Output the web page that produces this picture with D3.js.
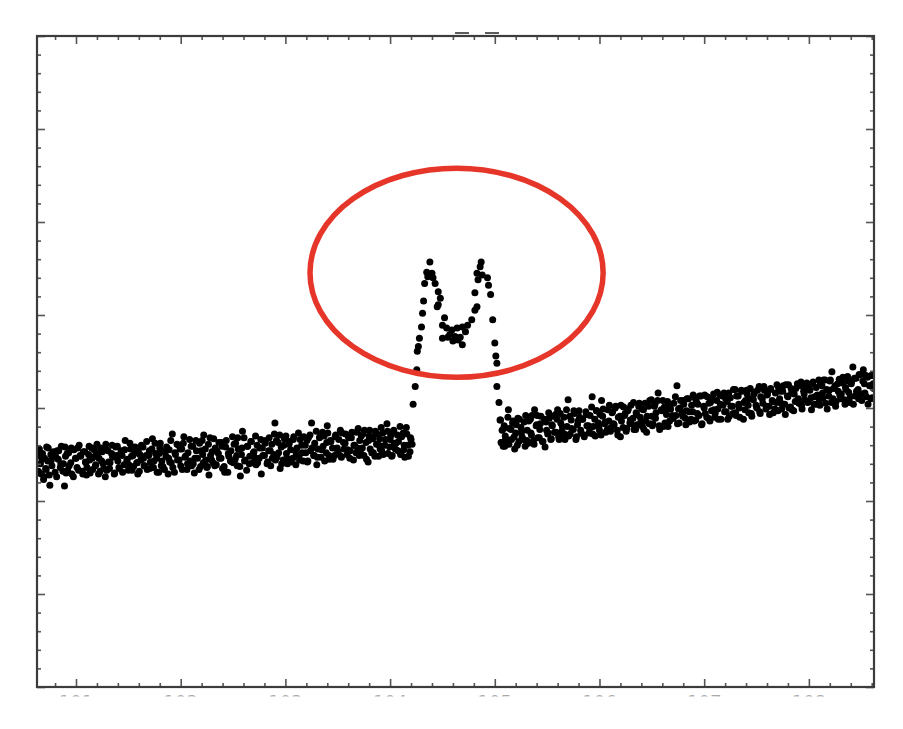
<!DOCTYPE html>
<html>
<head>
<meta charset="utf-8">
<script src="https://cdn.jsdelivr.net/npm/d3@7"></script>
<style>
  html, body { margin: 0; padding: 0; background: #fff; }
  svg { display: block; }
</style>
</head>
<body>
<script>
// ---------------- DATA ----------------
const xTickValues = [101, 102, 103, 104, 105, 106, 107, 108];
const xTickLabels = ["101", "102", "103", "104", "105", "106", "107", "108"];
const yTickValues = [0, 10, 20, 30, 40, 50, 60, 70];

// left baseline segment [x, y]
const leftBand = [
[100.63,24.9],[100.64,23.2],[100.65,25.6],[100.66,24.0],[100.67,22.9],[100.68,25.1],[100.69,22.3],[100.70,24.6],
[100.71,23.5],[100.72,25.8],[100.73,24.3],[100.75,21.7],[100.76,25.0],[100.77,23.8],[100.79,24.9],
[100.80,23.1],[100.82,25.4],[100.83,24.5],[100.85,23.6],[100.86,25.9],[100.88,24.0],[100.89,21.6],
[100.90,24.8],[100.92,23.3],[100.93,25.2],[100.95,24.1],[100.96,22.9],[100.98,25.5],
[101.00,24.6],[101.01,23.6],[101.03,26.0],[101.04,24.9],[101.06,23.2],[101.07,25.3],[101.09,24.2],
[101.10,22.8],[101.12,25.0],[101.13,24.4],[101.15,25.7],[101.16,23.4],[101.18,24.8],
[101.19,23.9],[101.20,26.1],[101.22,24.6],[101.23,23.2],[101.25,25.3],[101.26,24.0],[101.28,22.6],
[101.29,25.5],[101.31,24.2],[101.32,23.5],[101.34,25.1],[101.35,24.7],[101.37,23.0],[101.38,25.8],
[101.40,24.3],[101.41,23.6],[101.43,25.4],[101.44,24.9],[101.46,23.9],[101.47,26.5],[101.49,24.5],
[101.50,23.3],[101.52,25.6],[101.53,24.8],[101.55,23.7],[101.56,25.2],[101.58,24.1],
[101.59,22.9],[101.61,25.0],[101.62,24.4],[101.64,25.8],[101.65,23.8],[101.67,24.9],[101.68,23.4],
[101.70,25.4],[101.71,24.2],[101.73,26.7],[101.74,23.6],[101.76,25.1],[101.77,24.6],[101.79,23.1],
[101.80,25.7],[101.82,24.3],[101.83,23.7],[101.85,25.3],[101.86,24.8],[101.88,22.9],
[101.89,25.5],[101.91,24.1],[101.92,27.2],[101.94,23.1],[101.95,25.0],[101.97,24.4],[101.98,26.0],
[102.00,23.8],[102.01,25.6],[102.03,26.9],[102.04,24.7],[102.06,23.4],[102.07,25.2],[102.09,24.3],
[102.10,25.9],[102.12,24.0],[102.13,23.0],[102.15,25.4],[102.16,24.6],[102.18,26.2],[102.19,23.7],
[102.21,25.0],[102.22,27.1],[102.24,24.4],[102.25,23.6],[102.27,22.8],[102.28,26.8],[102.30,25.3],
[102.31,24.1],[102.33,25.7],[102.34,23.9],[102.36,25.1],[102.37,24.6],[102.39,26.3],
[102.40,23.5],[102.42,23.1],[102.43,25.8],[102.45,23.1],[102.46,24.8],[102.48,25.4],[102.49,24.2],
[102.51,26.1],[102.52,24.5],[102.54,23.8],[102.55,25.6],[102.57,22.7],[102.58,25.0],[102.59,27.5],
[102.61,24.3],[102.63,23.3],[102.64,25.9],[102.66,24.8],[102.67,26.4],[102.69,24.1],
[102.70,25.3],[102.72,23.9],[102.73,26.0],[102.75,24.6],[102.77,22.9],[102.78,25.7],[102.80,24.9],
[102.81,26.5],[102.83,24.2],[102.84,25.4],[102.86,23.8],[102.87,26.1],[102.89,25.0],
[102.90,28.4],[102.92,24.7],[102.93,26.3],[102.95,23.5],[102.96,25.8],[102.98,24.4],[102.99,26.7],
[103.01,25.1],[103.02,24.0],[103.04,26.4],[103.05,25.5],[103.07,24.6],[103.08,26.9],[103.10,23.9],
[103.11,25.7],[103.13,24.8],[103.14,26.6],[103.16,25.2],[103.17,24.3],[103.19,26.0],
[103.21,24.2],[103.22,26.8],[103.24,25.4],[103.25,28.4],[103.27,24.9],[103.28,26.2],[103.30,23.9],
[103.31,25.6],[103.33,26.9],[103.34,24.7],[103.36,25.9],[103.37,27.0],[103.39,25.2],[103.40,28.1],
[103.42,24.5],[103.43,26.5],[103.45,25.7],[103.47,24.9],[103.48,27.1],[103.50,25.3],
[103.51,26.6],[103.53,24.8],[103.54,27.3],[103.56,25.6],[103.57,26.2],[103.59,25.0],[103.60,27.0],
[103.62,25.4],[103.63,26.8],[103.65,24.4],[103.66,26.0],[103.68,27.4],[103.69,25.7],
[103.71,26.5],[103.72,25.1],[103.74,27.2],[103.75,24.9],[103.77,26.3],[103.79,24.2],[103.80,27.0],
[103.81,25.6],[103.83,26.9],[103.84,25.2],[103.86,27.5],[103.87,26.1],[103.89,24.8],
[103.90,26.7],[103.92,25.4],[103.93,27.3],[103.95,26.0],[103.97,28.3],[103.98,25.1],[104.00,26.6],
[104.01,27.4],[104.02,24.9],[104.04,26.2],[104.05,25.6],[104.07,27.1],[104.08,26.4],[104.10,25.0],
[104.11,26.9],[104.13,25.5],[104.14,24.7],[104.16,27.2],[104.17,26.0],[104.19,25.3],[104.20,26.6],
[100.635,25.4],[100.655,23.0],[100.675,24.5],[100.695,22.6],
[100.715,23.4],[100.735,25.7],[100.745,22.8],[100.765,24.4],[100.785,25.3],
[100.805,24.8],[100.815,22.6],[100.835,25.4],[100.855,24.0],[100.875,23.2],[100.895,25.8],
[100.905,23.0],[100.915,25.1],[100.935,23.8],[100.955,25.7],[100.975,22.6],[100.995,24.6],
[101.015,25.7],[101.025,23.3],[101.045,24.8],[101.065,22.9],[101.085,25.3],[101.095,24.1],
[101.105,23.6],[101.125,25.9],[101.135,23.0],[101.155,24.6],[101.175,25.5],[101.185,23.8],
[101.205,25.1],[101.215,22.9],[101.235,25.7],[101.245,24.3],[101.265,23.5],[101.285,26.1],
[101.295,23.3],[101.305,25.4],[101.325,24.1],[101.345,26.0],[101.365,22.9],[101.385,24.9],
[101.395,25.9],[101.415,23.5],[101.425,25.0],[101.445,23.1],[101.465,25.5],[101.485,24.3],
[101.505,23.9],[101.515,26.2],[101.535,23.3],[101.545,24.9],[101.565,25.8],[101.585,24.1],
[101.595,25.4],[101.605,23.2],[101.625,26.0],[101.645,24.6],[101.655,23.8],[101.675,26.4],[101.695,24.9],
[101.705,23.5],[101.725,25.6],[101.745,24.3],[101.755,26.2],[101.775,23.1],[101.795,25.1],
[101.805,26.2],[101.815,23.8],[101.835,25.3],[101.845,23.4],[101.865,25.8],[101.885,24.6],
[101.895,24.2],[101.905,26.5],[101.925,23.6],[101.945,25.2],[101.965,26.1],[101.985,24.4],
[101.995,25.6],[102.015,23.4],[102.025,26.2],[102.045,24.8],[102.065,24.0],[102.085,26.6],
[102.105,23.8],[102.115,25.9],[102.135,24.6],[102.145,26.5],[102.175,23.4],[102.195,25.4],
[102.205,26.5],[102.215,24.1],[102.235,25.6],[102.255,23.7],[102.265,26.1],[102.285,24.9],
[102.295,24.4],[102.315,26.7],[102.325,23.8],[102.345,25.4],[102.365,26.3],[102.385,24.6],
[102.395,25.9],[102.415,23.7],[102.435,26.5],[102.455,25.1],[102.475,24.3],[102.495,26.9],
[102.505,24.1],[102.525,26.2],[102.535,24.9],[102.545,26.8],[102.565,23.7],[102.585,25.7],
[102.605,26.8],[102.615,24.4],[102.635,25.9],[102.655,24.0],[102.675,26.4],[102.695,25.2],
[102.705,24.7],[102.715,27.0],[102.735,24.1],[102.755,25.7],[102.765,26.6],[102.785,24.9],
[102.805,26.2],[102.825,24.0],[102.845,26.8],[102.855,25.4],[102.875,24.6],[102.895,27.2],
[102.905,24.4],[102.915,26.5],[102.935,25.2],[102.945,27.1],[102.965,24.0],[102.985,26.0],
[103.005,27.0],[103.015,24.6],[103.035,26.1],[103.055,24.2],[103.075,26.6],[103.095,25.4],
[103.105,25.0],[103.125,27.3],[103.135,24.4],[103.155,26.0],[103.175,26.9],[103.195,25.2],
[103.205,26.5],[103.215,24.3],[103.235,27.1],[103.255,25.7],[103.275,24.9],[103.295,27.5],
[103.305,24.7],[103.325,26.8],[103.345,25.5],[103.355,27.4],[103.375,24.3],[103.395,26.3],
[103.405,27.3],[103.415,24.9],[103.435,26.4],[103.455,24.5],[103.475,26.9],[103.495,25.7],
[103.505,25.3],[103.525,27.6],[103.535,24.7],[103.555,26.3],[103.575,27.2],[103.595,25.5],
[103.605,26.8],[103.615,24.6],[103.635,27.4],[103.655,26.0],[103.675,25.2],[103.695,27.8],
[103.705,24.9],[103.725,27.0],[103.735,25.7],[103.755,27.6],[103.775,24.5],[103.795,26.5],
[103.805,27.6],[103.825,25.2],[103.835,26.7],[103.855,24.8],[103.875,27.2],[103.895,26.0],
[103.905,25.6],[103.915,27.9],[103.935,25.0],[103.955,26.6],[103.975,27.5],[103.995,25.8],
[104.005,27.0],[104.015,24.8],[104.035,27.6],[104.055,26.2],[104.075,25.4],[104.095,28.0],
[104.105,25.2],[104.125,27.3],[104.135,26.0],[104.155,27.9],[104.175,24.8],[104.195,26.8],[104.21,26.1]
];

// double-peaked feature [x, y]
const peak = [
[104.22,30.4],[104.24,32.3],[104.255,34.1],[104.26,36.1],[104.27,36.6],[104.28,37.5],[104.30,38.7],
[104.31,40.2],[104.32,41.5],[104.33,43.4],[104.35,44.6],[104.36,44.1],[104.38,45.7],[104.40,44.5],
[104.41,44.0],[104.43,43.4],[104.46,42.5],[104.48,41.8],[104.46,41.1],[104.45,40.9],
[104.52,39.7],[104.50,38.9],[104.54,38.6],[104.59,38.4],[104.64,38.6],[104.69,38.7],[104.50,37.5],
[104.55,37.6],[104.62,37.7],[104.67,37.6],[104.65,37.3],[104.69,36.8],[104.72,38.2],[104.74,38.9],
[104.78,39.5],[104.81,40.5],[104.83,40.9],[104.81,42.4],[104.57,37.9],[104.60,37.2],
[104.87,45.7],[104.86,45.2],[104.83,44.5],[104.88,44.3],[104.84,43.8],[104.93,44.0],[104.94,43.2],
[104.96,42.2],[104.98,39.5],[105.00,37.0],[105.01,35.6],[105.02,34.8],[105.02,32.3],[105.04,30.6]
];

// right baseline segment [x, y]
const rightBand = [
[105.05,28.7],[105.06,26.3],[105.07,27.6],[105.08,25.9],[105.09,28.1],
[105.10,27.0],[105.11,26.1],[105.13,29.8],[105.14,27.8],[105.16,26.6],[105.17,28.4],[105.19,25.6],
[105.20,27.3],[105.22,28.9],[105.23,26.4],[105.25,27.9],[105.26,26.9],[105.28,28.5],[105.29,25.9],
[105.31,27.6],[105.32,26.2],[105.34,28.8],[105.35,27.1],[105.37,26.5],[105.38,29.8],
[105.40,28.2],[105.41,26.8],[105.43,27.7],[105.44,29.1],[105.46,26.4],[105.48,25.8],[105.49,28.5],
[105.51,27.3],[105.52,28.9],[105.54,26.7],[105.55,28.1],[105.57,27.4],[105.58,29.3],
[105.60,29.8],[105.61,26.9],[105.63,28.4],[105.64,27.5],[105.66,29.0],[105.67,26.6],[105.69,28.0],
[105.70,30.9],[105.72,27.2],[105.73,28.7],[105.75,27.7],[105.76,29.4],[105.78,26.9],[105.79,28.2],
[105.81,29.0],[105.82,27.6],[105.84,28.8],[105.85,27.1],[105.87,29.6],[105.88,28.1],
[105.90,27.3],[105.91,29.2],[105.93,31.2],[105.94,28.0],[105.96,27.0],[105.97,29.7],[105.99,28.4],
[106.00,27.6],[106.02,30.8],[106.03,29.1],[106.05,28.3],[106.06,27.4],[106.08,29.8],[106.09,28.6],
[106.11,27.9],[106.12,29.5],[106.14,28.2],[106.15,30.0],[106.17,27.6],[106.18,29.0],
[106.20,26.9],[106.21,28.6],[106.23,30.1],[106.24,29.2],[106.26,27.8],[106.27,29.7],[106.29,28.4],
[106.30,30.3],[106.32,28.9],[106.33,27.7],[106.35,29.5],[106.36,28.2],[106.38,30.5],[106.39,29.0],
[106.41,28.0],[106.42,29.8],[106.44,28.6],[106.45,27.4],[106.47,30.2],[106.48,30.8],
[106.50,29.1],[106.51,28.3],[106.53,30.4],[106.54,29.5],[106.56,31.6],[106.57,28.1],[106.59,29.8],
[106.61,28.0],[106.62,30.1],[106.64,29.3],[106.65,30.7],[106.67,28.6],[106.68,29.9],
[106.70,28.9],[106.71,30.5],[106.73,29.2],[106.74,32.4],[106.76,28.4],[106.77,30.0],[106.79,29.4],
[106.80,30.8],[106.82,28.9],[106.83,29.7],[106.85,31.0],[106.86,28.5],[106.88,30.3],
[106.89,29.6],[106.91,31.1],[106.92,28.7],[106.94,30.4],[106.95,29.2],[106.97,31.3],[106.98,28.3],
[107.00,30.0],[107.01,29.4],[107.03,31.2],[107.04,28.9],[107.06,30.6],[107.07,29.7],[107.09,31.5],
[107.10,29.0],[107.12,30.8],[107.13,29.9],[107.15,31.4],[107.16,28.8],[107.18,30.3],
[107.19,31.6],[107.21,29.6],[107.22,30.7],[107.24,29.1],[107.25,31.1],[107.27,30.2],[107.28,32.0],
[107.30,29.5],[107.31,31.3],[107.33,30.4],[107.34,29.0],[107.36,31.8],[107.38,30.6],
[107.39,29.8],[107.41,31.5],[107.42,30.3],[107.44,32.1],[107.45,29.4],[107.47,30.9],[107.48,31.7],
[107.50,30.1],[107.51,31.9],[107.53,29.6],[107.54,31.2],[107.56,30.5],[107.57,32.3],[107.59,29.9],
[107.60,31.4],[107.62,30.2],[107.63,32.0],[107.65,30.8],[107.66,29.5],[107.68,31.6],
[107.69,30.6],[107.71,32.2],[107.72,31.0],[107.74,29.9],[107.75,31.8],[107.77,30.4],[107.78,32.5],
[107.80,31.2],[107.81,30.0],[107.83,32.1],[107.84,29.8],[107.86,31.5],[107.87,30.7],[107.89,32.6],
[107.90,31.0],[107.92,32.4],[107.93,30.3],[107.95,31.8],[107.96,30.9],[107.98,32.7],
[107.99,30.6],[108.01,31.9],[108.02,31.1],[108.04,32.8],[108.05,30.4],[108.07,32.2],[108.08,31.4],
[108.10,30.8],[108.11,32.6],[108.13,31.6],[108.14,33.0],[108.16,30.5],[108.17,32.0],
[108.19,31.3],[108.20,32.9],[108.22,33.9],[108.23,31.0],[108.25,32.4],[108.26,30.7],[108.28,31.8],
[108.29,33.1],[108.31,31.5],[108.32,32.7],[108.34,30.9],[108.35,32.2],[108.37,33.4],
[108.38,31.7],[108.39,30.6],[108.41,32.9],[108.42,34.4],[108.44,31.3],[108.45,33.2],[108.47,32.0],
[108.48,33.6],[108.50,31.5],[108.52,34.1],[108.53,32.6],[108.55,31.2],[108.56,33.3],
[108.58,32.4],[108.59,31.0],[108.61,33.5],[108.62,32.1],
[105.055,28.7],[105.065,26.3],[105.085,27.8],[105.095,25.9],
[105.105,26.7],[105.125,29.0],[105.135,26.1],[105.155,27.7],[105.175,28.6],[105.185,26.9],
[105.205,28.2],[105.215,26.0],[105.235,28.8],[105.255,27.4],[105.275,26.6],[105.295,29.2],
[105.305,26.5],[105.325,28.6],[105.345,27.3],[105.355,29.2],[105.375,26.1],[105.395,28.1],
[105.405,29.2],[105.425,26.8],[105.435,28.3],[105.455,26.4],[105.475,28.8],[105.495,27.6],
[105.505,27.2],[105.515,29.5],[105.535,26.6],[105.545,28.2],[105.565,29.1],[105.585,27.4],
[105.595,28.8],[105.615,26.6],[105.625,29.4],[105.645,28.0],[105.665,27.2],[105.685,29.8],
[105.705,27.0],[105.715,29.1],[105.735,27.8],[105.755,29.7],[105.775,26.6],[105.795,28.6],
[105.805,29.7],[105.825,27.3],[105.835,28.8],[105.855,26.9],[105.875,29.3],[105.895,28.1],
[105.905,27.8],[105.925,30.1],[105.935,27.2],[105.955,28.8],[105.975,29.7],[105.995,28.0],
[106.005,29.3],[106.015,27.1],[106.035,29.9],[106.055,28.5],[106.075,27.7],[106.095,30.3],
[106.105,27.5],[106.125,29.6],[106.135,28.3],[106.155,30.2],[106.175,27.1],[106.195,29.1],
[106.205,30.3],[106.225,27.9],[106.245,29.4],[106.255,27.5],[106.275,29.9],[106.295,28.7],
[106.305,28.3],[106.325,30.6],[106.345,27.7],[106.355,29.3],[106.375,30.2],[106.395,28.5],
[106.405,29.9],[106.425,27.7],[106.435,30.5],[106.455,29.1],[106.475,28.3],[106.495,30.9],
[106.505,28.1],[106.525,30.2],[106.535,28.9],[106.555,30.8],[106.575,27.7],[106.595,29.7],
[106.605,30.8],[106.625,28.4],[106.635,29.9],[106.655,28.0],[106.675,30.4],[106.695,29.2],
[106.705,28.9],[106.725,31.2],[106.745,28.3],[106.755,29.9],[106.775,30.8],[106.795,29.1],
[106.805,30.4],[106.825,28.2],[106.835,31.0],[106.855,29.6],[106.875,28.8],[106.895,31.4],
[106.905,28.6],[106.925,30.7],[106.935,29.4],[106.955,31.3],[106.975,28.2],[106.995,30.2],
[107.005,31.4],[107.025,29.0],[107.045,30.5],[107.055,28.6],[107.075,31.0],[107.095,29.8],
[107.105,29.4],[107.125,31.7],[107.135,28.8],[107.155,30.4],[107.175,31.3],[107.195,29.6],
[107.205,31.0],[107.225,28.8],[107.235,31.6],[107.255,30.2],[107.275,29.4],[107.295,32.0],
[107.305,29.2],[107.325,31.3],[107.335,30.0],[107.355,31.9],[107.375,28.8],[107.395,30.8],
[107.405,31.9],[107.425,29.5],[107.435,31.0],[107.455,29.1],[107.475,31.5],[107.495,30.3],
[107.505,30.0],[107.525,32.3],[107.535,29.4],[107.555,31.0],[107.575,31.9],[107.595,30.2],
[107.605,31.5],[107.625,29.3],[107.635,32.1],[107.655,30.7],[107.675,29.9],[107.695,32.5],
[107.705,29.7],[107.725,31.8],[107.735,30.5],[107.755,32.4],[107.775,29.3],[107.795,31.3],
[107.805,32.5],[107.825,30.1],[107.835,31.6],[107.855,29.7],[107.875,32.1],[107.895,30.9],
[107.905,30.5],[107.925,32.8],[107.935,29.9],[107.955,31.5],[107.975,32.4],[107.995,30.7],
[108.005,32.0],[108.025,29.8],[108.035,32.6],[108.055,31.2],[108.075,30.4],[108.095,33.0],
[108.105,30.3],[108.125,32.4],[108.135,31.1],[108.155,33.0],[108.175,29.9],[108.195,31.9],
[108.205,33.0],[108.215,30.6],[108.235,32.1],[108.255,30.2],[108.275,32.6],[108.295,31.4],
[108.305,31.0],[108.325,33.3],[108.345,30.4],[108.355,32.0],[108.375,32.9],[108.395,31.2],
[108.405,32.6],[108.425,30.4],[108.435,33.2],[108.455,31.8],[108.475,31.0],[108.495,33.6],
[108.505,30.8],[108.515,32.9],[108.535,31.6],[108.545,33.5],[108.565,30.4],[108.585,32.4],
[108.595,33.5],[108.605,31.1],[108.615,32.6]
];

// highlight annotation (data units)
const highlight = { cx: 104.635, cy: 44.55, rx: 1.40, ry: 11.24 };

// ---------------- CHART ----------------
const W = 903, H = 729;
const svg = d3.select("body").append("svg").attr("width", W).attr("height", H);
svg.append("rect").attr("width", W).attr("height", H).attr("fill", "#fff");

const x = d3.scaleLinear().domain([100.6275, 108.622]).range([37, 874]);
const y = d3.scaleLinear().domain([0, 70]).range([687, 36]);

const [x0, x1] = x.range();
const [yb, yt] = y.range();

const minorX = d3.range(100.8, 108.62, 0.2).filter(v => Math.abs(v - Math.round(v)) > 0.05);
const minorY = d3.range(2, 70, 2).filter(v => v % 10 !== 0);

const defs = svg.append("defs");
defs.append("clipPath").attr("id", "plotClip")
  .append("rect").attr("x", x0).attr("y", yt).attr("width", x1 - x0).attr("height", yb - yt);
defs.append("clipPath").attr("id", "labelClip")
  .append("rect").attr("x", 0).attr("y", yb + 1).attr("width", W).attr("height", 8.5);
defs.append("filter").attr("id", "soft").attr("x", "-5%").attr("y", "-5%").attr("width", "110%").attr("height", "110%")
  .append("feGaussianBlur").attr("stdDeviation", 0.45);

// points
const pts = svg.append("g").attr("clip-path", "url(#plotClip)")
  .append("g").attr("filter", "url(#soft)");
const allPts = leftBand.concat(peak, rightBand);
pts.selectAll("circle").data(allPts).join("circle")
  .attr("cx", d => x(d[0])).attr("cy", d => y(d[1]))
  .attr("r", 3.5).attr("fill", "#050505");

// highlight ellipse
svg.append("ellipse")
  .attr("cx", x(highlight.cx)).attr("cy", y(highlight.cy))
  .attr("rx", x(highlight.cx + highlight.rx) - x(highlight.cx))
  .attr("ry", y(highlight.cy) - y(highlight.cy + highlight.ry))
  .attr("fill", "none").attr("stroke", "#e6362a").attr("stroke-width", 5.5);

// axes
function styleAxis(g) {
  g.select(".domain").remove();
  g.selectAll(".tick line").attr("stroke", "#555").attr("stroke-width", 1.6);
}
svg.append("g").attr("transform", `translate(0,${yb})`)
  .call(d3.axisBottom(x).tickValues(xTickValues).tickSize(-8).tickFormat(""))
  .call(styleAxis);
svg.append("g").attr("transform", `translate(0,${yb})`)
  .call(d3.axisBottom(x).tickValues(minorX).tickSize(-4).tickFormat(""))
  .call(styleAxis);
svg.append("g").attr("transform", `translate(0,${yt})`)
  .call(d3.axisTop(x).tickValues(xTickValues).tickSize(-8).tickFormat(""))
  .call(styleAxis);
svg.append("g").attr("transform", `translate(0,${yt})`)
  .call(d3.axisTop(x).tickValues(minorX).tickSize(-4).tickFormat(""))
  .call(styleAxis);
svg.append("g").attr("transform", `translate(${x0},0)`)
  .call(d3.axisLeft(y).tickValues(yTickValues).tickSize(-8).tickFormat(""))
  .call(styleAxis);
svg.append("g").attr("transform", `translate(${x0},0)`)
  .call(d3.axisLeft(y).tickValues(minorY).tickSize(-4).tickFormat(""))
  .call(styleAxis);
svg.append("g").attr("transform", `translate(${x1},0)`)
  .call(d3.axisRight(y).tickValues(yTickValues).tickSize(-8).tickFormat(""))
  .call(styleAxis);
svg.append("g").attr("transform", `translate(${x1},0)`)
  .call(d3.axisRight(y).tickValues(minorY).tickSize(-4).tickFormat(""))
  .call(styleAxis);

// x tick labels, cut off just below the frame as in the reference
svg.append("g").attr("clip-path", "url(#labelClip)")
  .selectAll("text").data(xTickValues).join("text")
  .attr("x", d => x(d)).attr("y", yb + 8).attr("dy", "0.71em")
  .attr("text-anchor", "middle").attr("fill", "#aaa").attr("font-size", 18)
  .attr("font-family", "DejaVu Sans, sans-serif")
  .text((d, i) => xTickLabels[i]);

// frame
svg.append("rect").attr("x", x0).attr("y", yt).attr("width", x1 - x0).attr("height", yb - yt)
  .attr("fill", "none").attr("stroke", "#3c3c3c").attr("stroke-width", 2.2);

// clipped remnants of the title above the frame
const titleMarks = [[455, 469], [485, 499]];
svg.append("g").selectAll("line").data(titleMarks).join("line")
  .attr("x1", d => d[0]).attr("x2", d => d[1]).attr("y1", 33).attr("y2", 33)
  .attr("stroke", "#333").attr("stroke-width", 1.6);
</script>
</body>
</html>
